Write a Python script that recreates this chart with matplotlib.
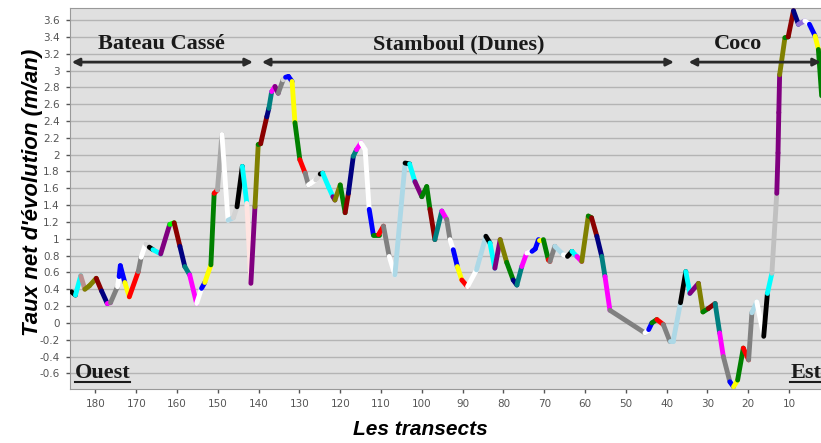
# -*- coding: utf-8 -*-
# Taux net d'evolution du trait de cote par transect
import matplotlib
matplotlib.use('Agg')
import matplotlib.pyplot as plt

# Numeros des transects (d'ouest en est)
transects = [185.9, 184.9, 183.6, 182.6, 181.5, 179.8, 178.5, 177.1, 176.3, 174.6,
             174.2, 173.9, 172.8, 171.7, 169.5, 168.8, 167.7, 166.8, 165.9, 164.0,
             161.8, 160.7, 159.3, 158.1, 156.9, 155.2, 154.0, 153.2, 151.7, 150.9,
             150.1, 149.0, 147.5, 146.2, 145.3, 144.0, 142.9, 141.9, 140.9, 140.1,
             139.5, 138.0, 137.5, 136.8, 136.0, 135.2, 134.0, 133.4, 132.7, 131.8,
             131.1, 129.9, 128.6, 127.8, 126.0, 124.9, 124.3, 122.9, 121.8, 121.3,
             120.0, 118.8, 118.0, 116.8, 116.0, 114.9, 113.9, 112.9, 111.9, 110.6,
             109.4, 108.0, 106.6, 104.1, 103.0, 101.7, 100.0, 98.8, 98.0, 96.8,
             95.1, 93.9, 93.1, 92.3, 91.3, 90.2, 88.8, 86.6, 84.3, 83.3,
             82.1, 80.8, 79.2, 77.6, 76.7, 75.5, 74.3, 73.0, 72.2, 71.4,
             70.2, 69.0, 68.6, 67.4, 65.3, 64.3, 63.2, 62.0, 60.8, 59.2,
             58.4, 57.1, 55.9, 55.1, 53.9, 45.3, 44.4, 43.6, 42.4, 40.8,
             39.2, 38.4, 36.6, 35.3, 34.3, 32.2, 31.1, 29.8, 28.1, 27.0,
             26.1, 24.5, 23.6, 22.6, 21.2, 19.9, 19.1, 17.9, 16.2, 15.3,
             14.2, 13.0, 12.7, 12.5, 12.3, 11.0, 10.2, 8.9, 7.7, 6.1,
             5.0, 3.6, 2.8, 2.0]

# Taux net d'evolution (m/an)
taux = [0.37, 0.33, 0.56, 0.40, 0.44, 0.53, 0.38, 0.23, 0.24, 0.43,
        0.55, 0.68, 0.48, 0.31, 0.61, 0.78, 0.94, 0.90, 0.87, 0.82,
        1.17, 1.19, 0.91, 0.67, 0.57, 0.23, 0.41, 0.48, 0.69, 1.54,
        1.58, 2.24, 1.22, 1.25, 1.38, 1.86, 1.42, 0.47, 1.38, 2.12,
        2.13, 2.45, 2.55, 2.75, 2.81, 2.73, 2.89, 2.92, 2.93, 2.87,
        2.38, 1.94, 1.78, 1.64, 1.70, 1.77, 1.78, 1.62, 1.50, 1.46,
        1.64, 1.31, 1.54, 1.98, 2.06, 2.14, 2.06, 1.35, 1.05, 1.05,
        1.15, 0.79, 0.57, 1.90, 1.89, 1.68, 1.50, 1.62, 1.35, 0.99,
        1.33, 1.23, 0.99, 0.87, 0.67, 0.51, 0.43, 0.63, 1.03, 0.95,
        0.65, 0.99, 0.72, 0.51, 0.45, 0.67, 0.83, 0.85, 0.88, 0.99,
        0.99, 0.75, 0.73, 0.91, 0.81, 0.79, 0.85, 0.79, 0.73, 1.27,
        1.25, 1.03, 0.79, 0.55, 0.15, -0.12, -0.08, 0.00, 0.04, -0.02,
        -0.22, -0.22, 0.24, 0.61, 0.35, 0.47, 0.13, 0.17, 0.23, -0.12,
        -0.40, -0.70, -0.76, -0.68, -0.30, -0.44, 0.12, 0.25, -0.16, 0.35,
        0.59, 1.54, 2.02, 2.50, 2.95, 3.39, 3.40, 3.71, 3.55, 3.59,
        3.55, 3.41, 3.25, 2.70]

# Couleur de chaque segment (entre deux transects successifs)
couleurs = ['black', 'cyan', 'rosybrown', 'olive', 'olive', 'darkred', 'navy', 'magenta', 'gray', 'white',
            'blue', 'blue', 'yellow', 'red', 'gray', 'white', 'lightgray', 'black', 'cyan', 'purple',
            'lime', 'darkred', 'navy', 'teal', 'magenta', 'white', 'blue', 'yellow', 'green', 'red',
            'darkgray', 'white', 'lightblue', 'lightgray', 'black', 'cyan', 'mistyrose', 'purple', 'olive', 'green',
            'darkred', 'navy', 'teal', 'magenta', 'purple', 'gray', 'lightgray', 'blue', 'blue', 'yellow',
            'green', 'red', 'gray', 'white', 'lightgray', 'black', 'cyan', 'cyan', 'purple', 'olive',
            'green', 'darkred', 'navy', 'teal', 'magenta', 'white', 'white', 'blue', 'green', 'red',
            'gray', 'white', 'lightblue', 'black', 'cyan', 'purple', 'green', 'green', 'darkred', 'teal',
            'magenta', 'gray', 'white', 'blue', 'yellow', 'red', 'white', 'lightblue', 'black', 'cyan',
            'purple', 'olive', 'green', 'navy', 'teal', 'magenta', 'white', 'blue', 'blue', 'yellow',
            'green', 'red', 'gray', 'lightblue', 'white', 'black', 'cyan', 'magenta', 'olive', 'green',
            'darkred', 'navy', 'teal', 'magenta', 'gray', 'white', 'blue', 'green', 'red', 'gray',
            'lightblue', 'lightblue', 'black', 'cyan', 'purple', 'olive', 'green', 'darkred', 'teal', 'magenta',
            'gray', 'blue', 'yellow', 'green', 'red', 'gray', 'lightblue', 'white', 'black', 'cyan',
            'silver', 'purple', 'purple', 'purple', 'olive', 'green', 'darkred', 'navy', 'mediumpurple', 'white',
            'blue', 'yellow', 'green']

# Zones du littoral et leurs limites (transects)
zones = ['Bateau Cassé', 'Stamboul (Dunes)', 'Coco']
zone_debut = [185.8, 139.2, 34.6]
zone_fin = [141.4, 38.2, 2.2]
zone_centre = [163.9, 90.9, 22.5]

# Graduations
yticks = [-0.6, -0.4, -0.2, 0, 0.2, 0.4, 0.6, 0.8, 1, 1.2, 1.4, 1.6, 1.8, 2,
          2.2, 2.4, 2.6, 2.8, 3, 3.2, 3.4, 3.6]
ylabels = ['-0.6', '-0.4', '-0.2', '0', '0.2', '0.4', '0.6', '0.8', '1', '1.2', '1.4',
           '1.6', '1.8', '2', '2.2', '2.4', '2.6', '2.8', '3', '3.2', '3.4', '3.6']
xticks = [180, 170, 160, 150, 140, 130, 120, 110, 100, 90, 80, 70, 60, 50, 40, 30, 20, 10]

fig = plt.figure(figsize=(8.21, 4.43), dpi=100)
ax = fig.add_axes([0.0847, 0.1219, 0.9153, 0.860])
ax.set_facecolor('#e0e0e0')

# Lignes horizontales de la grille
for yt in yticks:
    ax.axhline(yt, color='#b4b4b4', lw=1.0, zorder=1)

# Trace segment par segment, chacun dans sa couleur
for i in range(len(transects) - 1):
    ax.plot(transects[i:i + 2], taux[i:i + 2], color=couleurs[i], lw=3.5,
            solid_capstyle='round', zorder=3)

# Fleches delimitant les zones
for nom, d, f, c in zip(zones, zone_debut, zone_fin, zone_centre):
    ax.annotate('', xy=(f, 3.1), xytext=(d, 3.1),
                arrowprops=dict(arrowstyle='<|-|>', color='#2a2a2a', lw=2,
                                mutation_scale=11, shrinkA=0, shrinkB=0),
                zorder=4, annotation_clip=False)
    ax.text(c, 3.31, nom, family='Liberation Serif', weight='bold', fontsize=16,
            ha='center', va='center', color='#1a1a1a', zorder=5)

# Ouest / Est soulignes
ax.text(0.0075, 0.028, 'Ouest', transform=ax.transAxes, family='Liberation Serif',
        weight='bold', fontsize=16, color='#1a1a1a', ha='left', va='baseline')
ax.plot([0.0075, 0.081], [0.018, 0.018], transform=ax.transAxes, color='#1a1a1a', lw=1.5)
ax.text(0.959, 0.028, 'Est', transform=ax.transAxes, family='Liberation Serif',
        weight='bold', fontsize=16, color='#1a1a1a', ha='left', va='baseline', clip_on=False)
ax.plot([0.959, 1.0], [0.018, 0.018], transform=ax.transAxes, color='#1a1a1a', lw=1.5)

ax.set_xlim(186.35, 2.16)
ax.set_ylim(-0.786, 3.743)
ax.set_yticks(yticks)
ax.set_yticklabels(ylabels)
ax.set_xticks(xticks)
ax.tick_params(labelsize=7.5, colors='#555555', length=3, width=1, pad=4)
for s in ax.spines.values():
    s.set_color('#999999')
ax.spines['right'].set_visible(False)

fig.text(0.040, 0.565, "Taux net d'évolution (m/an)", rotation=90, ha='center', va='center',
         family='Liberation Sans', weight='bold', style='italic', fontsize=16)
fig.text(0.512, 0.030, 'Les transects', ha='center', va='center',
         family='Liberation Sans', weight='bold', style='italic', fontsize=15)

fig.savefig('out.png', dpi=100)
